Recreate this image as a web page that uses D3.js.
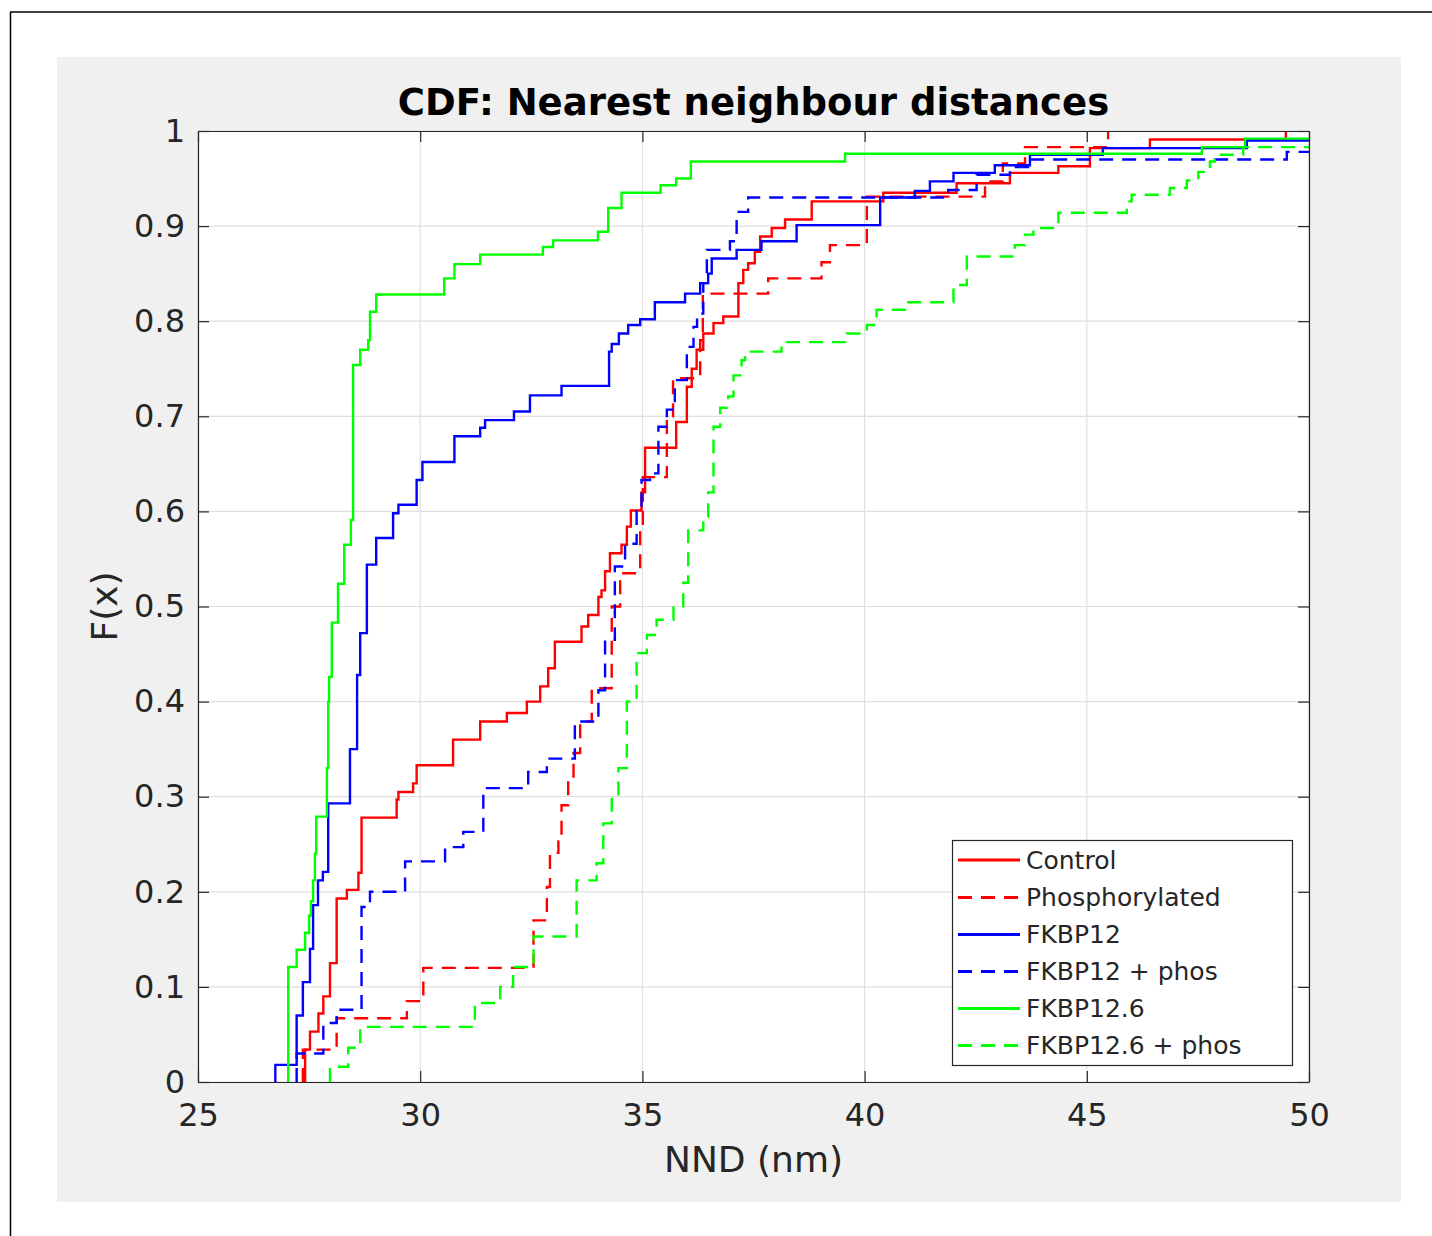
<!DOCTYPE html>
<html>
<head>
<meta charset="utf-8">
<script src="https://cdn.jsdelivr.net/npm/d3@7"></script>
<style>
  html, body { margin: 0; padding: 0; background: #fff; }
  svg { display: block; font-family: "DejaVu Sans", sans-serif; }
</style>
</head>
<body>
<svg id="chart" width="1432" height="1236"></svg>
<script>
// ---- data ([x in nm, F(x)] at each step) ----
const xTicks = [25, 30, 35, 40, 45, 50];
const yTicks = [0, 0.1, 0.2, 0.3, 0.4, 0.5, 0.6, 0.7, 0.8, 0.9, 1];
const yTickLabels = ["0", "0.1", "0.2", "0.3", "0.4", "0.5", "0.6", "0.7", "0.8", "0.9", "1"];

const control = [
  [27.41,0.034],[27.52,0.053],[27.71,0.072],[27.82,0.09],[27.97,0.125],[28.12,0.193],[28.35,0.202],
  [28.61,0.22],[28.68,0.278],[29.47,0.297],[29.51,0.305],[29.84,0.314],[29.92,0.333],[30.74,0.36],
  [31.35,0.379],[31.95,0.388],[32.40,0.40],[32.70,0.416],[32.88,0.435],[33.03,0.463],[33.63,0.479],
  [33.78,0.491],[34.01,0.51],[34.08,0.517],[34.16,0.537],[34.27,0.556],[34.53,0.565],[34.65,0.584],
  [34.74,0.601],[34.98,0.62],[35.06,0.667],[35.76,0.694],[36.00,0.731],[36.11,0.75],[36.22,0.77],
  [36.37,0.787],[36.60,0.798],[36.82,0.805],[37.16,0.84],[37.27,0.854],[37.38,0.861],[37.53,0.873],
  [37.65,0.889],[37.91,0.898],[38.21,0.907],[38.81,0.926],[40.42,0.935],[42.07,0.945],[43.27,0.956],
  [44.36,0.963],[45.07,0.982],[46.42,0.991],[49.48,1.0]
];
const phosphorylated = [
  [27.36,0.034],[28.12,0.067],[29.70,0.085],[30.07,0.12],[32.55,0.17],[32.85,0.205],[32.92,0.241],
  [33.11,0.253],[33.18,0.291],[33.33,0.32],[33.45,0.346],[33.60,0.379],[33.86,0.414],[34.31,0.50],
  [34.50,0.535],[34.95,0.58],[35.01,0.636],[35.55,0.70],[35.69,0.74],[36.30,0.78],[36.36,0.829],
  [37.83,0.845],[39.03,0.862],[39.22,0.88],[40.05,0.931],[42.71,0.947],[43.11,0.966],[43.61,0.983],
  [45.48,1.0]
];
const fkbp12 = [
  [26.74,0.018],[27.22,0.07],[27.36,0.105],[27.52,0.14],[27.59,0.186],[27.70,0.212],[27.81,0.221],
  [27.93,0.293],[28.42,0.35],[28.58,0.428],[28.65,0.472],[28.80,0.544],[29.01,0.572],[29.39,0.598],
  [29.51,0.607],[29.92,0.633],[30.05,0.652],[30.77,0.679],[31.35,0.688],[31.46,0.696],[32.11,0.705],
  [32.47,0.722],[33.18,0.732],[34.25,0.768],[34.31,0.776],[34.47,0.787],[34.68,0.796],[34.95,0.802],
  [35.28,0.82],[35.96,0.829],[36.30,0.84],[36.48,0.85],[36.56,0.866],[37.12,0.875],[37.68,0.884],
  [38.47,0.901],[40.35,0.93],[41.13,0.937],[41.47,0.947],[42.00,0.956],[42.93,0.964],[43.72,0.975],
  [45.36,0.982],[48.60,0.99]
];
const fkbp12Phos = [
  [27.22,0.03],[27.82,0.062],[28.12,0.076],[28.68,0.184],[28.87,0.2],[29.66,0.232],[30.56,0.247],
  [30.97,0.263],[31.42,0.309],[32.43,0.326],[32.85,0.34],[33.48,0.379],[34.01,0.412],[34.16,0.465],
  [34.38,0.542],[34.61,0.566],[34.87,0.60],[34.98,0.633],[35.17,0.64],[35.36,0.689],[35.55,0.707],
  [35.73,0.738],[36.00,0.773],[36.15,0.794],[36.23,0.808],[36.37,0.84],[36.45,0.875],[36.97,0.884],
  [37.12,0.915],[37.38,0.93],[41.88,0.938],[42.52,0.954],[43.27,0.962],[43.68,0.97],[49.50,0.978]
];
const fkbp126 = [
  [27.03,0.121],[27.22,0.139],[27.41,0.157],[27.50,0.175],[27.54,0.19],[27.59,0.212],[27.63,0.24],
  [27.66,0.279],[27.90,0.33],[27.93,0.40],[27.95,0.426],[28.01,0.483],[28.15,0.524],[28.29,0.565],
  [28.44,0.591],[28.49,0.754],[28.65,0.77],[28.83,0.78],[28.87,0.81],[29.01,0.828],[30.54,0.845],
  [30.77,0.86],[31.35,0.87],[32.76,0.878],[32.99,0.885],[34.00,0.894],[34.23,0.919],[34.53,0.935],
  [35.41,0.943],[35.76,0.95],[36.09,0.968],[39.56,0.976],[47.59,0.983],[48.56,0.992]
];
const fkbp126Phos = [
  [27.97,0.016],[28.38,0.036],[28.65,0.058],[31.23,0.083],[31.80,0.10],[32.09,0.121],[32.55,0.153],
  [33.52,0.212],[33.97,0.23],[34.12,0.272],[34.31,0.30],[34.46,0.33],[34.65,0.40],[34.87,0.451],
  [35.10,0.47],[35.32,0.486],[35.70,0.50],[35.92,0.525],[36.03,0.58],[36.37,0.594],[36.48,0.62],
  [36.60,0.689],[36.75,0.709],[36.93,0.721],[37.05,0.743],[37.23,0.759],[37.31,0.768],[38.13,0.778],
  [39.60,0.787],[40.05,0.796],[40.27,0.812],[40.91,0.82],[42.00,0.838],[42.30,0.868],[43.38,0.88],
  [43.61,0.891],[43.80,0.898],[44.36,0.914],[45.90,0.926],[46.01,0.933],[46.87,0.94],[47.25,0.948],
  [47.51,0.957],[47.77,0.968],[47.88,0.975],[48.52,0.983]
];

const seriesNames = ["Control", "Phosphorylated", "FKBP12", "FKBP12 + phos", "FKBP12.6", "FKBP12.6 + phos"];
const seriesData = [control, phosphorylated, fkbp12, fkbp12Phos, fkbp126, fkbp126Phos];
const seriesColors = ["#ff0000", "#ff0000", "#0000ff", "#0000ff", "#00ff00", "#00ff00"];
const seriesDashed = [false, true, false, true, false, true];

// ---- layout ----
const svg = d3.select("#chart");
const plot = { left: 198, right: 1309, top: 131, bottom: 1082 };
const axisColor = "#262626";

// outer frame lines + grey figure background
svg.append("line").attr("x1", 10.5).attr("x2", 10.5).attr("y1", 12).attr("y2", 1236)
  .attr("stroke", "#000").attr("stroke-width", 1.5);
svg.append("line").attr("x1", 10).attr("x2", 1432).attr("y1", 12).attr("y2", 12)
  .attr("stroke", "#000").attr("stroke-width", 1.5);
svg.append("rect").attr("x", 57).attr("y", 57).attr("width", 1344).attr("height", 1145).attr("fill", "#f0f0f0");

const x = d3.scaleLinear().domain([25, 50]).range([plot.left, plot.right]);
const y = d3.scaleLinear().domain([0, 1]).range([plot.bottom, plot.top]);

svg.append("rect")
  .attr("x", plot.left).attr("y", plot.top)
  .attr("width", plot.right - plot.left).attr("height", plot.bottom - plot.top)
  .attr("fill", "#fff");

// grid
const grid = svg.append("g").attr("stroke", "#dfdfdf").attr("stroke-width", 1.2);
xTicks.forEach(t => grid.append("line").attr("x1", x(t)).attr("x2", x(t)).attr("y1", plot.top).attr("y2", plot.bottom));
yTicks.forEach(t => grid.append("line").attr("x1", plot.left).attr("x2", plot.right).attr("y1", y(t)).attr("y2", y(t)));

// curves
svg.append("clipPath").attr("id", "clip").append("rect")
  .attr("x", plot.left).attr("y", plot.top - 1)
  .attr("width", plot.right - plot.left).attr("height", plot.bottom - plot.top + 1);

const line = d3.line().x(d => x(d[0])).y(d => y(d[1])).curve(d3.curveStepAfter);
const curves = svg.append("g").attr("clip-path", "url(#clip)");
seriesData.forEach((s, i) => {
  const last = s[s.length - 1];
  const pts = [[s[0][0], 0], ...s];
  if (last[1] < 1) pts.push([51, last[1]]);
  curves.append("path")
    .datum(pts)
    .attr("d", line)
    .attr("fill", "none")
    .attr("stroke", seriesColors[i])
    .attr("stroke-width", 2.4)
    .attr("stroke-dasharray", seriesDashed[i] ? "14,9" : null);
});

// axes (ticks pointing inward, box on)
function styleAxis(g) {
  g.select(".domain").attr("stroke", axisColor).attr("stroke-width", 1.2);
  g.selectAll(".tick line").attr("stroke", axisColor).attr("stroke-width", 1.2);
  g.selectAll(".tick text").attr("fill", axisColor).style("font-size", "32px")
    .style("font-family", "'DejaVu Sans', sans-serif");
}
svg.append("g").attr("transform", `translate(0,${plot.bottom})`)
  .call(d3.axisBottom(x).tickValues(xTicks).tickSizeInner(-11).tickSizeOuter(0).tickPadding(21))
  .call(styleAxis);
svg.append("g").attr("transform", `translate(${plot.left},0)`)
  .call(d3.axisLeft(y).tickValues(yTicks).tickFormat((d, i) => yTickLabels[i]).tickSizeInner(-11).tickSizeOuter(0).tickPadding(13))
  .call(styleAxis);
svg.append("g").attr("transform", `translate(0,${plot.top})`)
  .call(d3.axisTop(x).tickValues(xTicks).tickSizeInner(-11).tickSizeOuter(0).tickFormat(""))
  .call(styleAxis);
svg.append("g").attr("transform", `translate(${plot.right},0)`)
  .call(d3.axisRight(y).tickValues(yTicks).tickSizeInner(-11).tickSizeOuter(0).tickFormat(""))
  .call(styleAxis);

// title and labels
svg.append("text").attr("x", (plot.left + plot.right) / 2).attr("y", 115)
  .attr("text-anchor", "middle").attr("fill", "#000")
  .style("font-size", "37px").style("font-weight", "bold")
  .text("CDF: Nearest neighbour distances");
svg.append("text").attr("x", (plot.left + plot.right) / 2).attr("y", 1172)
  .attr("text-anchor", "middle").attr("fill", axisColor)
  .style("font-size", "36px")
  .text("NND (nm)");
svg.append("text")
  .attr("transform", `translate(117,${(plot.top + plot.bottom) / 2}) rotate(-90)`)
  .attr("text-anchor", "middle").attr("fill", axisColor)
  .style("font-size", "36px")
  .text("F(x)");

// legend
const legend = svg.append("g");
legend.append("rect").attr("x", 952.5).attr("y", 840.5).attr("width", 340).attr("height", 225)
  .attr("fill", "#fff").attr("stroke", axisColor).attr("stroke-width", 1.2);
const rowY = [860, 897.5, 934.5, 971.5, 1008.5, 1045.5];
seriesNames.forEach((name, i) => {
  legend.append("line").attr("x1", 958).attr("x2", 1020).attr("y1", rowY[i]).attr("y2", rowY[i])
    .attr("stroke", seriesColors[i]).attr("stroke-width", 3)
    .attr("stroke-dasharray", seriesDashed[i] ? "14,9" : null);
  legend.append("text").attr("x", 1026).attr("y", rowY[i]).attr("dy", "0.35em")
    .attr("fill", axisColor).style("font-size", "25px").text(name);
});
</script>
</body>
</html>
